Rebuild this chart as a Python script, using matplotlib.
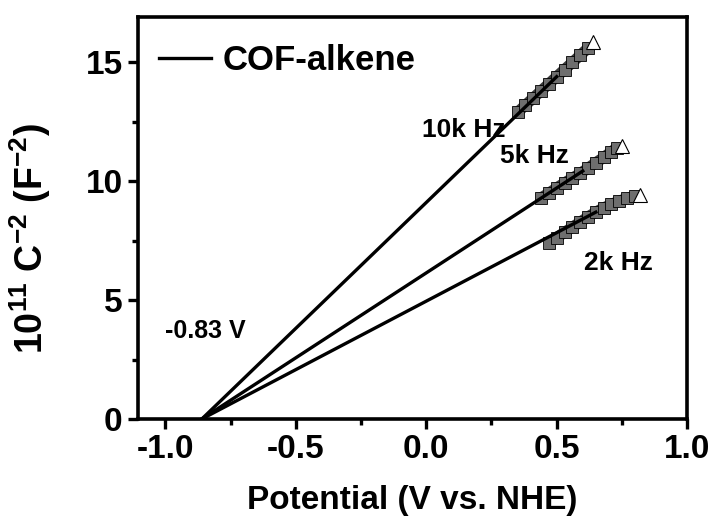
import numpy as np
import matplotlib.pyplot as plt

plt.rcParams['font.family'] = ['Liberation Sans', 'DejaVu Sans']
plt.rcParams['font.weight'] = 'bold'
plt.rcParams['mathtext.fontset'] = 'custom'
plt.rcParams['mathtext.rm'] = 'Liberation Sans:bold'
plt.rcParams['mathtext.bf'] = 'Liberation Sans:bold'

# Mott-Schottky data (V vs NHE, 1e11 C^-2)
x_10k = [0.35, 0.38, 0.41, 0.44, 0.47, 0.50, 0.53, 0.56, 0.59, 0.62, 0.64]
y_10k = [12.9, 13.2, 13.5, 13.8, 14.1, 14.4, 14.7, 15.0, 15.3, 15.6, 15.85]
x_5k = [0.44, 0.47, 0.50, 0.53, 0.56, 0.59, 0.62, 0.65, 0.68, 0.71, 0.73, 0.75]
y_5k = [9.3, 9.5, 9.72, 9.93, 10.13, 10.33, 10.55, 10.78, 11.0, 11.25, 11.4, 11.5]
x_2k = [0.47, 0.50, 0.53, 0.56, 0.59, 0.62, 0.65, 0.68, 0.71, 0.74, 0.77, 0.80, 0.82]
y_2k = [7.4, 7.62, 7.85, 8.07, 8.28, 8.5, 8.7, 8.88, 9.03, 9.17, 9.28, 9.37, 9.42]

# linear fits: x-intercept and end of fitted line
x_int = -0.86
fit_end = {'10k': (0.50, 14.4), '5k': (0.60, 10.43), '2k': (0.65, 8.7)}

fig = plt.figure(figsize=(7.15, 5.23), dpi=100)
ax = fig.add_axes([0.193, 0.199, 0.768, 0.768])

for xs, ys, key in [(x_10k, y_10k, '10k'), (x_5k, y_5k, '5k'), (x_2k, y_2k, '2k')]:
    ax.plot(xs[:-1], ys[:-1], '-', color='#3a3a3a', lw=8, solid_capstyle='butt', zorder=2)
    ax.plot(xs[:-1], ys[:-1], 's', ms=8, mfc='#6e6e6e', mec='black', mew=0.6, zorder=2)
    ax.plot(xs[-1], ys[-1], '^', ms=10, mfc='white', mec='black', mew=0.8, zorder=2)
    xe, ye = fit_end[key]
    ax.plot([x_int, xe], [0, ye], color='black', lw=2.4, zorder=3,
            label='COF-alkene' if key == '10k' else None)

ax.text(0.142, 12.16, '10k Hz', fontsize=19, ha='center', va='center')
ax.text(0.415, 11.06, '5k Hz', fontsize=19, ha='center', va='center')
ax.text(0.738, 6.57, '2k Hz', fontsize=19, ha='center', va='center')
ax.text(-0.846, 3.69, '-0.83 V', fontsize=18, ha='center', va='center')

leg = ax.legend(loc='upper left', frameon=False, fontsize=25, handlelength=1.5,
                handletextpad=0.35, borderaxespad=0.2, bbox_to_anchor=(0.0, 0.985))

ax.set_xlim(-1.105, 1.0)
ax.set_ylim(0, 16.9)
ax.set_xticks([-1.0, -0.5, 0.0, 0.5, 1.0])
ax.set_xticklabels(['-1.0', '-0.5', '0.0', '0.5', '1.0'])
ax.set_yticks([0, 5, 10, 15])
ax.set_xticks(np.arange(-0.75, 1.0, 0.5), minor=True)
ax.set_yticks([2.5, 7.5, 12.5], minor=True)
ax.tick_params(which='major', direction='out', length=7, width=2.4, labelsize=24, pad=4)
ax.tick_params(which='minor', direction='out', length=4, width=2.4)
for s in ax.spines.values():
    s.set_linewidth(2.6)

ax.set_xlabel('Potential (V vs. NHE)', fontsize=24, fontweight='bold', labelpad=14)
ax.set_ylabel(r'10$^{11}$ C$^{-2}$ (F$^{-2}$)', fontsize=27, fontweight='bold')
ax.yaxis.set_label_coords(-0.155, 0.45)

fig.savefig('out.png', dpi=100)
